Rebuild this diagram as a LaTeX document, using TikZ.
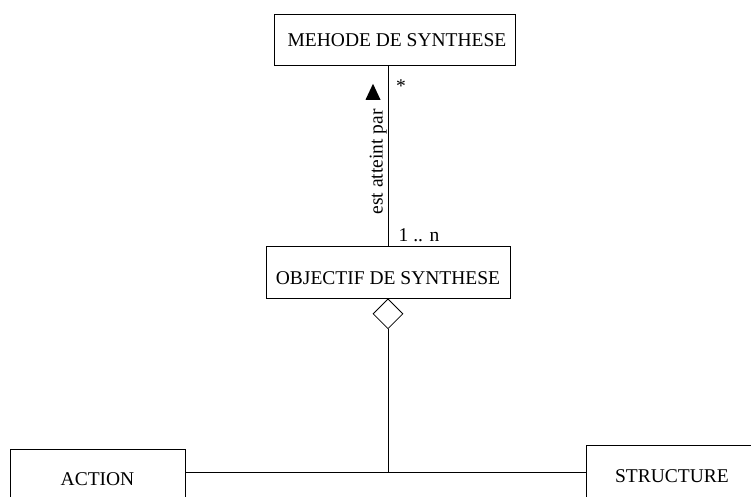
\documentclass[tikz,border=0pt]{standalone}
\usepackage{fontspec}
\setmainfont{Liberation Serif}
\usetikzlibrary{shapes.geometric}

\begin{document}
\begin{tikzpicture}[x=1pt, y=-1pt, line width=0.8pt,
    every node/.style={font=\fontsize{19.5}{23}\selectfont},
    classe/.style={draw, inner sep=0pt}]
  \useasboundingbox (0,0) rectangle (751,496);
  \node[classe, minimum width=241pt, minimum height=51pt] (methode) at (394.5,40) {\hspace{5pt}MEHODE DE SYNTHESE};
  \node[classe, minimum width=244pt, minimum height=52pt] (objectif) at (388,272) {\raisebox{-6pt}[\height][\depth]{OBJECTIF DE SYNTHESE}};
  \node[classe, minimum width=175pt, minimum height=60pt] (action) at (97.5,479) {ACTION};
  \node[classe, minimum width=172pt, minimum height=62pt] (structure) at (672,476) {STRUCTURE};
  \node[draw, diamond, fill=white, inner sep=0pt, minimum width=30pt, minimum height=30pt, anchor=north] (agreg) at (objectif.south) {};
  \coordinate (jonction) at (388,472);
  \draw (objectif.north) -- (objectif.north |- methode.south);
  \draw (agreg.south) -- (jonction);
  \draw (action.east |- jonction) -- (structure.west |- jonction);
  \node[fill, isosceles triangle, isosceles triangle stretches, shape border rotate=90,
    inner sep=0pt, minimum width=15pt, minimum height=16pt] (sens) at (373,95) {};
  \node[rotate=90, anchor=base] (role) at (382.5,162) {est atteint par};
  \node[anchor=base] (multhaut) at (401,92) {*};
  \node[anchor=base] (multbas) at (419,241) {1 .. n};
\end{tikzpicture}
\end{document}
